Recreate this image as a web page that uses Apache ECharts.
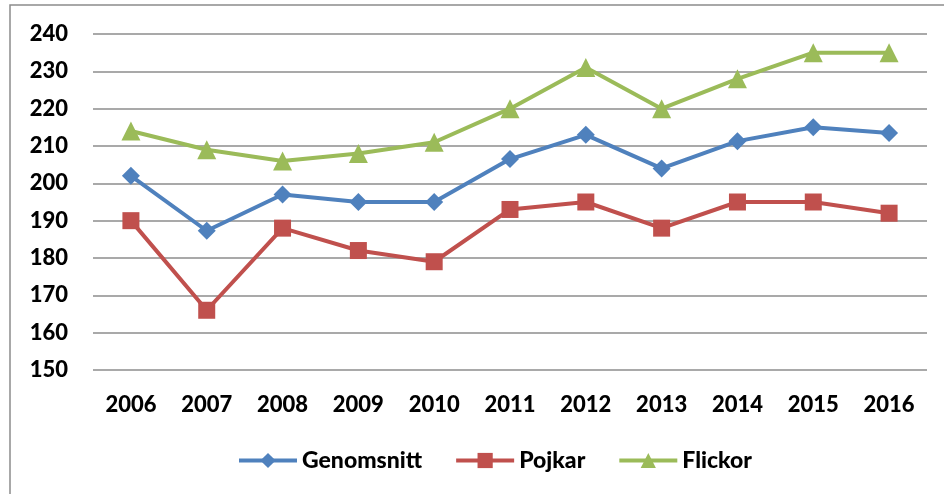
<!DOCTYPE html>
<html>
<head>
<meta charset="utf-8">
<script src="https://cdn.jsdelivr.net/npm/echarts@6/dist/echarts.min.js"></script>
<style>
  html, body { margin: 0; padding: 0; background: #fff; }
  #chart { width: 944px; height: 494px; }
</style>
</head>
<body>
<div id="chart"></div>
<script>
const years = ['2006', '2007', '2008', '2009', '2010', '2011', '2012', '2013', '2014', '2015', '2016'];
const genomsnitt = [202, 187.3, 197, 195, 195, 206.5, 213, 204, 211.3, 215, 213.5];
const pojkar = [190, 166, 188, 182, 179, 193, 195, 188, 195, 195, 192];
const flickor = [214, 209, 206, 208, 211, 220, 231, 220, 228, 235, 235];

const font = 'Lato, "Open Sans", sans-serif';

function makeSeries(name, data, color, symbol, size) {
    return {
        name: name,
        type: 'line',
        data: data,
        symbol: symbol,
        symbolSize: size,
        lineStyle: { color: color, width: 4 },
        itemStyle: { color: color },
        emphasis: { disabled: true }
    };
}

let myChart = echarts.init(document.getElementById('chart'));

let options = {
    animation: false,
    graphic: [{
        type: 'rect',
        shape: { x: 10, y: 5, width: 1000, height: 600 },
        style: { fill: 'none', stroke: '#8c8c8c', lineWidth: 1.5 }
    }],
    grid: { left: 93, right: 17, top: 34, bottom: 124 },
    legend: {
        bottom: 17,
        left: 232,
        itemWidth: 58,
        itemHeight: 19,
        itemGap: 32,
        lineStyle: { width: 4 },
        textStyle: { fontFamily: font, fontWeight: 900, fontSize: 23, color: '#000' },
        data: ['Genomsnitt', 'Pojkar', 'Flickor']
    },
    xAxis: {
        type: 'category',
        data: years,
        boundaryGap: true,
        axisLine: { show: false },
        axisTick: { show: false },
        axisLabel: { fontFamily: font, fontWeight: 900, fontSize: 22, color: '#000', margin: 24 }
    },
    yAxis: {
        type: 'value',
        min: 150,
        max: 240,
        interval: 10,
        axisLine: { show: false },
        axisTick: { show: false },
        axisLabel: { fontFamily: font, fontWeight: 900, fontSize: 22, color: '#000', margin: 25 },
        splitLine: { lineStyle: { color: '#8c8c8c', width: 1.5 } }
    },
    series: [
        makeSeries('Genomsnitt', genomsnitt, '#4F81BD', 'diamond', 18),
        makeSeries('Pojkar', pojkar, '#C0504D', 'rect', 17),
        makeSeries('Flickor', flickor, '#9BBB59', 'triangle', 19)
    ]
};

myChart.setOption(options);
</script>
</body>
</html>
